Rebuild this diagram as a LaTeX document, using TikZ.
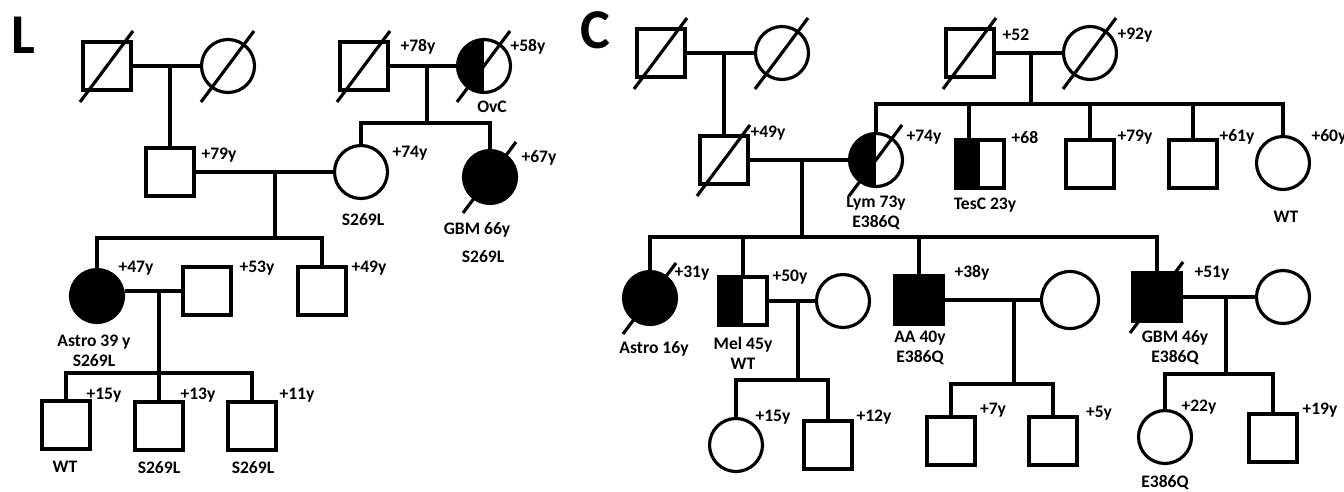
\documentclass[tikz,border=0pt]{standalone}
\usepackage{fontspec}
\setmainfont{Carlito}
\usetikzlibrary{calc}
\tikzset{
  male/.style={draw, rectangle, line width=1.8pt, minimum size=0.96cm, inner sep=0pt},
  female/.style={draw, circle, line width=1.8pt, minimum size=1.06cm, inner sep=0pt},
  affected/.style={fill=black},
  halfaffected/.style={path picture={\fill[black] (path picture bounding box.south west) rectangle (path picture bounding box.north);}},
  link/.style={line width=1.8pt},
  deadline/.style={line width=1.8pt},
  age/.style={font=\bfseries\fontsize{10}{11.4}\selectfont, inner sep=0pt},
  note/.style={font=\bfseries\fontsize{10}{11.4}\selectfont, inner sep=0pt, align=center},
  panel/.style={font=\bfseries\fontsize{32}{34}\selectfont, inner sep=0pt}
}

\begin{document}
\begin{tikzpicture}[x=0.02cm, y=-0.02cm]
  \useasboundingbox (0,0) rectangle (1344,491);

  \node[panel] (pL) at (23,35) {L};
  \node[panel] (pC) at (595,30) {C};

  \node[male] (L1a) at (107,66) {};
  \node[female] (L1b) at (228,66) {};
  \node[male] (L1c) at (364,66) {};
  \node[female, halfaffected] (L1d) at (484,66) {};
  \node[male] (L2a) at (170,172) {};
  \node[female] (L2b) at (361,172) {};
  \node[female, affected] (L2c) at (490,177) {};
  \node[female, affected] (L3a) at (97,296) {};
  \node[male] (L3b) at (207,291) {};
  \node[male] (L3c) at (322,291) {};
  \node[male] (L4a) at (66,425) {};
  \node[male] (L4b) at (159,426) {};
  \node[male] (L4c) at (252,426) {};

  \node[male] (C1a) at (661,53) {};
  \node[female] (C1b) at (782,53) {};
  \node[male] (C1c) at (970,53) {};
  \node[female] (C1d) at (1090,53) {};
  \node[male] (C2a) at (724,160) {};
  \node[female, halfaffected] (C2b) at (876,160) {};
  \node[male, halfaffected] (C2c) at (980,164) {};
  \node[male] (C2d) at (1090,164) {};
  \node[male] (C2e) at (1193,164) {};
  \node[female] (C2f) at (1283,163) {};
  \node[female, affected] (C3a) at (650,298) {};
  \node[male, halfaffected] (C3b) at (743,301) {};
  \node[female] (C3c) at (843,301) {};
  \node[male, affected] (C3d) at (919,300) {};
  \node[female, minimum size=1.14cm] (C3e) at (1070,300) {};
  \node[male, affected] (C3f) at (1157,297) {};
  \node[female] (C3g) at (1283,297) {};
  \node[female] (C4a) at (736,445) {};
  \node[male] (C4b) at (828,445) {};
  \node[male] (C4c) at (951,441) {};
  \node[male] (C4d) at (1053,441) {};
  \node[female] (C4e) at (1165,437) {};
  \node[male] (C4f) at (1273,438) {};

  \foreach \n in {L1a,L1b,L1c,L1d,L2c,C1a,C1b,C1c,C1d,C2a,C2b,C3a,C3f}
    \draw[deadline] ($(\n)+(-27,36)$) -- ($(\n)+(26,-35)$);

  \coordinate (mL1a) at (170,66);
  \coordinate (mL1c) at (427,66);
  \coordinate (sL1c) at (427,123);
  \coordinate (mL2) at (275,172);
  \coordinate (sL2) at (275,238);
  \coordinate (mL3) at (159,291);
  \coordinate (sL3) at (159,373);
  \coordinate (mC1a) at (724,53);
  \coordinate (mC1c) at (1031,53);
  \coordinate (sC1c) at (1031,104);
  \coordinate (mC2) at (802,160);
  \coordinate (sC2) at (802,237);
  \coordinate (mC3b) at (798,301);
  \coordinate (sC3b) at (798,380);
  \coordinate (mC3d) at (1014,300);
  \coordinate (sC3d) at (1014,384);
  \coordinate (mC3f) at (1226,297);
  \coordinate (sC3f) at (1226,374);

  \draw[link] (L1a) -- (L1b);
  \draw[link] (L1c) -- (L1d);
  \draw[link] (L2a) -- (L2b);
  \draw[link] (L3a.east |- L3b) -- (L3b);
  \draw[link] (mL1a) -- (L2a);
  \draw[link] (mL1c) -- (sL1c);
  \draw[link] (L2b.north) |- (sL1c) -| (L2c.north);
  \draw[link] (mL2) -- (sL2);
  \draw[link] (L3a.north) |- (sL2) -| (L3c.north);
  \draw[link] (mL3) -- (sL3);
  \draw[link] (L4a.north) |- (sL3) -| (L4c.north);
  \draw[link] (L4b.north) -- (L4b.north |- sL3);

  \draw[link] (C1a) -- (C1b);
  \draw[link] (C1c) -- (C1d);
  \draw[link] (C2a) -- (C2b);
  \draw[link] (C3b) -- (C3c);
  \draw[link] (C3d) -- (C3e);
  \draw[link] (C3f) -- (C3g);
  \draw[link] (mC1a) -- (C2a);
  \draw[link] (mC1c) -- (sC1c);
  \draw[link] (C2b.north) |- (sC1c) -| (C2f.north);
  \foreach \n in {C2d,C2e}
    \draw[link] (\n.north) -- (\n.north |- sC1c);
  \draw[link] ([xshift=-0.22cm]C2c.north) -- ([xshift=-0.22cm]C2c.north |- sC1c);
  \draw[link] (mC2) -- (sC2);
  \draw[link] (C3a.north) |- (sC2) -| (C3f.north);
  \foreach \n in {C3b,C3d}
    \draw[link] (\n.north) -- (\n.north |- sC2);
  \draw[link] (mC3b) -- (sC3b);
  \draw[link] (C4a.north) |- (sC3b) -| (C4b.north);
  \draw[link] (mC3d) -- (sC3d);
  \draw[link] (C4c.north) |- (sC3d) -| (C4d.north);
  \draw[link] (mC3f) -- (sC3f);
  \draw[link] (C4e.north) |- (sC3f) -| (C4f.north);

  \node[age] (aL1c) at (418,47) {+78y};
  \node[age] (aL1d) at (528,47) {+58y};
  \node[note] (nL1d) at (492,107) {OvC};
  \node[age] (aL2a) at (219,155) {+79y};
  \node[age] (aL2b) at (410,153) {+74y};
  \node[note] (nL2b) at (363,220) {S269L};
  \node[age] (aL2c) at (539,158) {+67y};
  \node[note] (nL2c) at (477,230) {GBM 66y};
  \node[note] (gL2c) at (483,257) {S269L};
  \node[age] (aL3a) at (136,268) {+47y};
  \node[note] (nL3a) at (94,351) {Astro 39 y\\S269L};
  \node[age] (aL3b) at (257,268) {+53y};
  \node[age] (aL3c) at (369,268) {+49y};
  \node[age] (aL4a) at (104,395) {+15y};
  \node[note] (nL4a) at (65,467) {WT};
  \node[age] (aL4b) at (198,395) {+13y};
  \node[note] (nL4b) at (159,468) {S269L};
  \node[age] (aL4c) at (297,395) {+11y};
  \node[note] (nL4c) at (253,468) {S269L};

  \node[age] (aC1c) at (1016,35) {+52};
  \node[age] (aC1d) at (1135,35) {+92y};
  \node[age] (aC2a) at (768,133) {+49y};
  \node[age] (aC2b) at (924,137) {+74y};
  \node[note] (nC2b) at (876,213) {Lym 73y\\E386Q};
  \node[age] (aC2c) at (1025,137) {+68};
  \node[note] (nC2c) at (985,205) {TesC 23y};
  \node[age] (aC2d) at (1135,137) {+79y};
  \node[age] (aC2e) at (1237,137) {+61y};
  \node[age] (aC2f) at (1329,137) {+60y};
  \node[note] (nC2f) at (1286,217) {WT};
  \node[age] (aC3a) at (692,273) {+31y};
  \node[note] (nC3a) at (654,349) {Astro 16y};
  \node[age] (aC3b) at (790,277) {+50y};
  \node[note] (nC3b) at (743,353) {Mel 45y\\WT};
  \node[age] (aC3d) at (972,273) {+38y};
  \node[note] (nC3d) at (920,348) {AA 40y\\E386Q};
  \node[age] (aC3f) at (1212,273) {+51y};
  \node[note] (nC3f) at (1175,348) {GBM 46y\\E386Q};
  \node[age] (aC4a) at (773,417) {+15y};
  \node[age] (aC4b) at (874,417) {+12y};
  \node[age] (aC4c) at (993,410) {+7y};
  \node[age] (aC4d) at (1099,413) {+5y};
  \node[age] (aC4e) at (1199,407) {+22y};
  \node[note] (nC4e) at (1165,483) {E386Q};
  \node[age] (aC4f) at (1320,410) {+19y};
\end{tikzpicture}
\end{document}
